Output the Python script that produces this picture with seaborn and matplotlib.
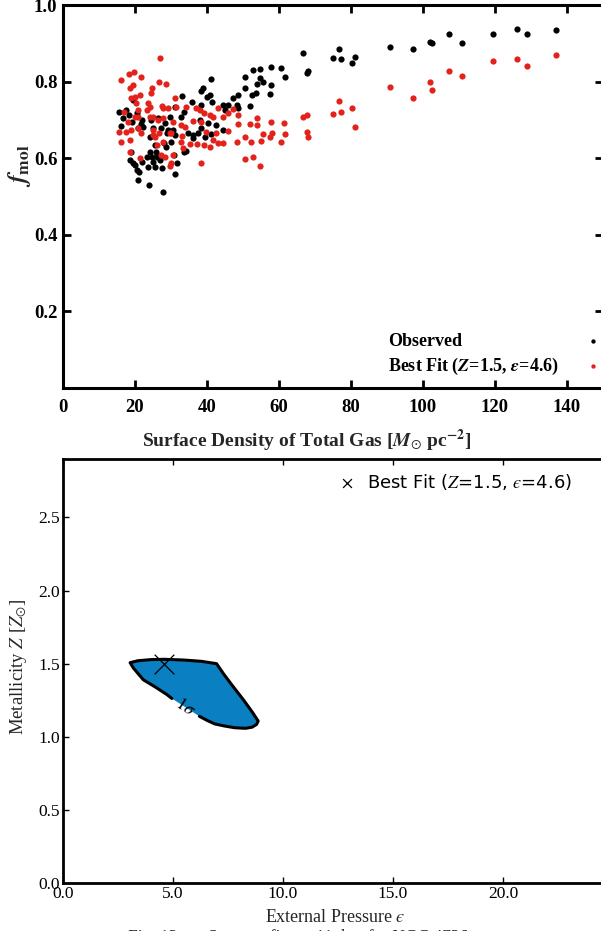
import matplotlib
matplotlib.use("Agg")
import matplotlib.pyplot as plt
import numpy as np
import pandas as pd
import seaborn as sns

# ---------------------------------------------------------------------------
# Molecular fraction versus total gas surface density
# ---------------------------------------------------------------------------
obs_x = [15.6, 16.0, 16.8, 17.6, 18.2, 19.1, 19.5, 20.5, 20.9, 21.6, 21.9, 22.2,
         18.6, 19.5, 20.0, 20.5, 20.7, 21.2, 21.9, 19.0, 23.2, 23.7, 24.0, 24.2,
         24.6, 25.1, 25.6, 25.9, 26.0, 26.5, 26.9, 27.4, 27.7, 24.5, 25.0, 24.1,
         26.4, 27.3, 28.2, 28.7, 25.5, 28.0, 28.8, 29.3, 29.6,
         41.2, 38.9, 38.4, 40.7, 40.1, 41.4, 33.1, 35.8, 38.2, 44.4, 31.2, 33.6,
         45.1, 32.7, 38.0, 40.3, 42.6, 38.4, 34.7, 36.1, 37.5, 41.0, 44.4, 30.6,
         31.0, 29.9, 34.3, 33.6, 30.8, 31.8, 31.2, 36.1, 39.4,
         45.8, 47.2, 48.4, 48.6, 48.6, 50.5, 50.6, 51.9, 52.5, 52.8, 53.7, 54.0,
         54.8, 54.8, 55.6, 57.4, 57.7, 57.9, 60.5, 61.6,
         66.8, 67.7, 68.1, 75.1, 76.7, 77.1, 80.3, 81.2, 90.9, 97.1, 101.9, 102.6,
         107.3, 110.7, 119.4, 126.1, 128.8, 136.9]
obs_y = [0.721, 0.684, 0.704, 0.726, 0.713, 0.695, 0.752, 0.717, 0.678, 0.690, 0.700, 0.682,
         0.595, 0.587, 0.582, 0.569, 0.543, 0.565, 0.591, 0.617, 0.604, 0.578, 0.530, 0.617,
         0.604, 0.591, 0.578, 0.617, 0.604, 0.606, 0.595, 0.574, 0.513, 0.700, 0.678, 0.656,
         0.704, 0.678, 0.691, 0.630, 0.634, 0.640, 0.665, 0.674, 0.708,
         0.807, 0.782, 0.775, 0.765, 0.761, 0.748, 0.763, 0.748, 0.740, 0.739, 0.734, 0.721,
         0.726, 0.708, 0.700, 0.691, 0.687, 0.678, 0.667, 0.661, 0.667, 0.662, 0.674, 0.674,
         0.661, 0.643, 0.619, 0.615, 0.608, 0.587, 0.560, 0.652, 0.656,
         0.739, 0.756, 0.740, 0.765, 0.730, 0.782, 0.813, 0.737, 0.765, 0.830, 0.769, 0.793,
         0.833, 0.810, 0.798, 0.767, 0.791, 0.839, 0.836, 0.811,
         0.874, 0.822, 0.828, 0.862, 0.886, 0.859, 0.848, 0.863, 0.890, 0.886, 0.904, 0.901,
         0.923, 0.902, 0.925, 0.937, 0.923, 0.935]

fit_x = [15.6, 16.0, 16.2, 17.0, 18.2, 18.5, 19.4, 19.6, 19.0, 20.0, 20.3, 20.8,
         20.7, 19.9, 18.1, 17.6, 19.0, 20.8, 21.8, 18.5, 18.6, 21.8, 21.5, 21.4,
         23.2, 23.6, 24.1, 24.5, 24.6, 24.2, 25.0, 26.4, 25.1, 25.0, 25.6, 26.8,
         26.0, 27.8, 26.8, 27.0, 28.7, 27.4, 27.8, 27.9, 27.3, 28.2, 29.3, 29.7, 29.7,
         31.0, 31.5, 34.2, 37.0, 38.0, 39.2, 40.7, 36.1, 38.4, 41.7, 43.1, 44.4,
         45.8, 30.6, 32.9, 33.8, 39.8, 42.6, 30.1, 33.1, 32.9, 35.2, 37.3, 39.2,
         40.7, 43.1, 44.4, 33.3, 30.1, 30.6, 38.4, 41.7,
         47.2, 48.6, 48.6, 45.8, 54.0, 54.0, 51.9, 57.7, 61.4, 55.6, 58.1, 57.5,
         61.8, 50.6, 48.4, 52.3, 54.9, 60.5, 50.5, 52.8, 54.7,
         66.8, 67.7, 67.7, 68.1, 75.1, 76.7, 77.1, 80.3, 81.2, 90.9, 97.1, 101.9,
         102.6, 107.3, 110.7, 119.4, 126.1, 128.8, 136.9]
fit_y = [0.669, 0.804, 0.643, 0.721, 0.819, 0.782, 0.790, 0.826, 0.758, 0.761, 0.743, 0.726,
         0.708, 0.708, 0.695, 0.669, 0.674, 0.678, 0.665, 0.648, 0.617, 0.813, 0.765, 0.600,
         0.726, 0.743, 0.734, 0.769, 0.782, 0.708, 0.708, 0.700, 0.674, 0.661, 0.656, 0.665,
         0.634, 0.643, 0.800, 0.861, 0.793, 0.735, 0.730, 0.704, 0.608, 0.604, 0.730, 0.665, 0.580,
         0.756, 0.734, 0.734, 0.730, 0.726, 0.717, 0.713, 0.697, 0.694, 0.708, 0.730, 0.708,
         0.717, 0.695, 0.687, 0.682, 0.669, 0.665, 0.665, 0.659, 0.643, 0.636, 0.636, 0.634,
         0.630, 0.639, 0.639, 0.626, 0.587, 0.608, 0.587, 0.648,
         0.728, 0.713, 0.688, 0.670, 0.706, 0.686, 0.688, 0.694, 0.692, 0.662, 0.667, 0.655,
         0.664, 0.656, 0.641, 0.641, 0.645, 0.641, 0.598, 0.602, 0.580,
         0.708, 0.713, 0.669, 0.656, 0.715, 0.750, 0.721, 0.731, 0.682, 0.786, 0.757, 0.800,
         0.778, 0.828, 0.814, 0.853, 0.859, 0.841, 0.870]

top_xticks = [0, 20, 40, 60, 80, 100, 120, 140]
top_yticks = [0.2, 0.4, 0.6, 0.8, 1.0]

# ---------------------------------------------------------------------------
# 1-sigma confidence region in the (epsilon, Z) plane
# ---------------------------------------------------------------------------
sigma_eps = [6.20, 6.55, 6.90, 7.30, 7.80, 8.30, 8.60, 8.80, 8.87, 8.60, 8.20,
             7.70, 7.30, 6.98, 6.30, 5.50, 4.60, 4.00, 3.40, 3.05, 3.20, 3.65,
             4.20, 4.71, 4.95]
sigma_Z = [1.140, 1.112, 1.088, 1.075, 1.062, 1.058, 1.066, 1.085, 1.108, 1.170, 1.253,
           1.350, 1.430, 1.500, 1.516, 1.525, 1.530, 1.528, 1.520, 1.507, 1.470, 1.390,
           1.340, 1.290, 1.262]
best_eps = [4.6]
best_Z = [1.5]

bottom_xticks = [0.0, 5.0, 10.0, 15.0, 20.0]
bottom_yticks = [0.0, 0.5, 1.0, 1.5, 2.0, 2.5]

sns.set_style("ticks")
plt.rcParams.update({
    "font.family": ["Liberation Serif", "DejaVu Serif"],
    "mathtext.fontset": "stix",
    "axes.edgecolor": "black",
    "xtick.color": "black",
    "ytick.color": "black",
    "text.color": "black",
})

W, H = 601, 931
fig = plt.figure(figsize=(W / 100, H / 100), dpi=100)
ax1 = fig.add_axes([63 / W, 1 - 388 / H, 540 / W, 383 / H])
ax2 = fig.add_axes([63 / W, 1 - 883 / H, 550 / W, 424 / H])

red = "#e3221b"

# ---- top panel ----
obs = pd.DataFrame({"x": obs_x, "y": obs_y})
fit = pd.DataFrame({"x": fit_x, "y": fit_y})
sns.scatterplot(data=obs, x="x", y="y", color="black", s=20, linewidth=0,
                label="Observed", ax=ax1, zorder=3)
sns.scatterplot(data=fit, x="x", y="y", color=red, s=20, linewidth=0,
                label="Best Fit ($\\mathbfit{Z}$=1.5, $\\mathbfit{\u03b5}$=4.6)",
                ax=ax1, zorder=4)

ax1.set_xlim(0, 150)
ax1.set_ylim(0, 1.0)
ax1.set_xticks(top_xticks)
ax1.set_xticklabels([str(v) for v in top_xticks], fontweight="bold", fontsize=13.5)
ax1.set_yticks(top_yticks)
ax1.set_yticklabels([f"{v:.1f}" for v in top_yticks], fontweight="bold", fontsize=13.5)
ax1.tick_params(direction="in", top=True, right=True, length=6, width=2, pad=4)
ax1.tick_params(axis="x", pad=8)
for sp in ax1.spines.values():
    sp.set_linewidth(2.2)
    sp.set_visible(True)

ax1.set_xlabel(r"Surface Density of Total Gas [$\mathbfit{M}_{\odot}$ pc$^{\mathbf{-2}}$]",
               fontweight="bold", fontsize=14)
ax1.xaxis.set_label_coords(0.452, -0.102)
ax1.set_ylabel(r"$\mathbfit{f}_{\mathbf{mol}}$", fontsize=18)
ax1.yaxis.set_label_coords(-0.055, 0.58)

base_pad = 1.4
leg = ax1.legend(loc="lower right", bbox_to_anchor=(0.998, 0.03), markerfirst=False,
                 frameon=False, prop={"weight": "bold", "size": 13}, handlelength=1.0,
                 handletextpad=base_pad, borderpad=0, borderaxespad=0, labelspacing=0.3,
                 markerscale=0.7)

# left-align the legend labels while keeping the markers in one column
fig.canvas.draw()
renderer = fig.canvas.get_renderer()
widths = [t.get_window_extent(renderer).width for t in leg.get_texts()]
wmax = max(widths)
rows = leg._legend_handle_box.get_children()[0].get_children()
for row, w in zip(rows, widths):
    row.sep = base_pad * 13 + (wmax - w) * 72.0 / fig.dpi

# ---- bottom panel ----
ax2.fill(sigma_eps, sigma_Z, color="#0a7fc1", lw=0, zorder=1)
sns.lineplot(x=sigma_eps, y=sigma_Z, sort=False, estimator=None, color="black",
             lw=2.2, ax=ax2, zorder=2)
ax2.text(5.55, 1.20, r"$1\sigma$", rotation=-33, ha="center", va="center",
         fontsize=13, zorder=3)
sns.scatterplot(x=best_eps, y=best_Z, marker="x", s=200, color="black",
                linewidth=0.9, label="Best Fit ($Z$=1.5, $\u03f5$=4.6)",
                ax=ax2, zorder=4)

ax2.set_xlim(0, 25)
ax2.set_ylim(0, 2.9)
ax2.set_xticks(bottom_xticks)
ax2.set_xticklabels([f"{v:.1f}" for v in bottom_xticks], fontsize=12.5)
ax2.set_yticks(bottom_yticks)
ax2.set_yticklabels([f"{v:.1f}" for v in bottom_yticks], fontsize=12.5)
ax2.tick_params(direction="in", top=True, right=True, length=4, width=1, pad=2)
for sp in ax2.spines.values():
    sp.set_linewidth(2.0)
    sp.set_visible(True)

ax2.set_xlabel("External Pressure $\u03f5$", fontsize=13)
ax2.xaxis.set_label_coords(0.495, -0.062)
ax2.set_ylabel(r"Metallicity $Z$ [$Z_{\odot}$]", fontsize=13.5)
ax2.yaxis.set_label_coords(-0.062, 0.51)

ax2.legend(loc="upper right", bbox_to_anchor=(0.925, 0.97), frameon=False,
           prop={"family": "DejaVu Sans", "size": 13}, handlelength=1.0,
           handletextpad=0.6, borderpad=0, borderaxespad=0, markerscale=0.45)

fig.text(128 / W, 1 - 937 / H, "Fig. 12.\u2014  Same as figure 11, but for NGC 4736",
         fontsize=12.5, ha="left", va="center", color="#222222")

fig.savefig("out.png", dpi=100)
